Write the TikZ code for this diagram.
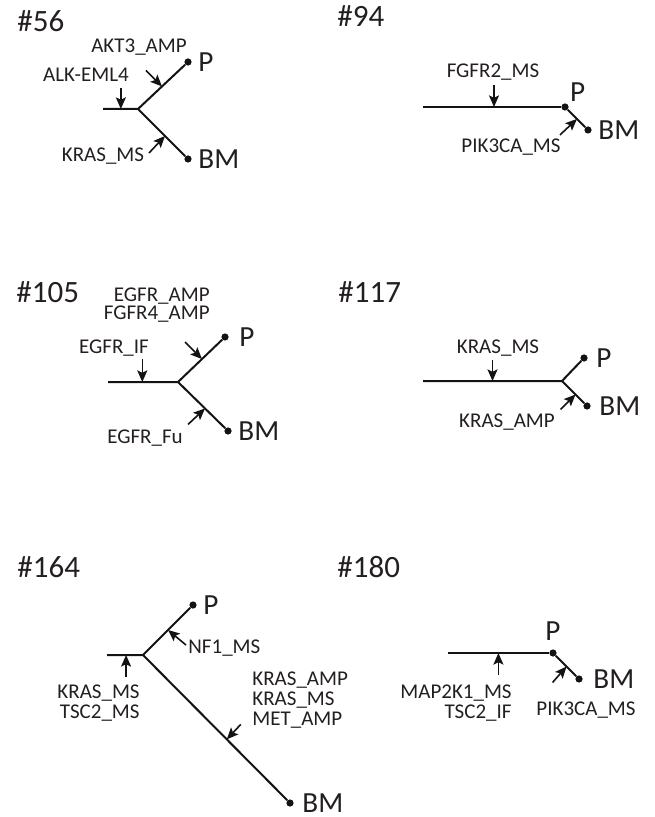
\documentclass[tikz,border=0pt]{standalone}
\usepackage{fontspec}
\setmainfont{Carlito}
\usepackage{tikz}
\usetikzlibrary{arrows.meta, positioning, calc}
\definecolor{mytext}{RGB}{35,31,32}
\definecolor{myline}{RGB}{20,18,18}
\tikzset{
  branch/.style={line width=1pt, color=myline},
  tipdot/.style={circle, fill=myline, inner sep=0pt, minimum size=3.6pt},
  mutarrow/.style={-{Stealth[length=5.8pt, width=5pt, inset=1.2pt]}, line width=0.8pt, color=myline},
  mutlabel/.style={font=\fontsize{10.5}{10}\selectfont, text=mytext, inner sep=0pt, anchor=base},
  sitelabel/.style={font=\fontsize{14.6}{16}\selectfont, text=mytext, inner sep=0pt},
  casetitle/.style={font=\fontsize{15.5}{18}\selectfont, text=mytext, inner sep=0pt, anchor=base west}
}

\begin{document}
\begin{tikzpicture}[x=0.5pt, y=-0.5pt]
  \useasboundingbox (0,0) rectangle (654,817);

  % #56
  \node[casetitle] (t56) at (17,32) {\#56};
  \coordinate (s56) at (103,109);
  \coordinate (j56) at (138,109);
  \node[tipdot] (p56) at (188,62) {};
  \node[tipdot] (bm56) at (188,159) {};
  \draw[branch] (s56) -- (j56) -- (p56);
  \draw[branch] (j56) -- (bm56);
  \node[sitelabel, right=3pt of p56] (lp56) {P};
  \node[sitelabel, right=3pt of bm56] (lbm56) {BM};
  \coordinate (m56a) at ($(s56)!0.51!(j56)$);
  \coordinate (m56b) at ($(j56)!0.48!(p56)$);
  \coordinate (m56c) at ($(j56)!0.54!(bm56)$);
  \coordinate (a56a) at ($(m56a)+(0,-21)$);
  \coordinate (a56b) at ($(m56b)+(-16,-16)$);
  \coordinate (a56c) at ($(m56c)+(-16,17)$);
  \draw[mutarrow] (a56a) -- (m56a);
  \draw[mutarrow] (a56b) -- (m56b);
  \draw[mutarrow] (a56c) -- (m56c);
  \node[mutlabel] (g56a) at (86,82) {ALK-EML4};
  \node[mutlabel] (g56b) at (139,53) {AKT3\_AMP};
  \node[mutlabel] (g56c) at (103,162) {KRAS\_MS};

  % #94
  \node[casetitle] (t94) at (337,27) {\#94};
  \coordinate (s94) at (423,107);
  \node[tipdot] (p94) at (565,107) {};
  \node[tipdot] (bm94) at (588,130) {};
  \draw[branch] (s94) -- (p94);
  \draw[branch] (p94) -- (bm94);
  \node[sitelabel, above right=1pt and 1pt of p94] (lp94) {P};
  \node[sitelabel, right=3pt of bm94] (lbm94) {BM};
  \coordinate (m94a) at ($(s94)!0.5!(p94)$);
  \coordinate (m94b) at ($(p94)!0.52!(bm94)$);
  \coordinate (a94a) at ($(m94a)+(0,-22)$);
  \coordinate (a94b) at ($(m94b)+(-17,16)$);
  \draw[mutarrow] (a94a) -- (m94a);
  \draw[mutarrow] (a94b) -- (m94b);
  \node[mutlabel] (g94a) at (493,78) {FGFR2\_MS};
  \node[mutlabel] (g94b) at (511,153) {PIK3CA\_MS};

  % #105
  \node[casetitle] (t105) at (16,303) {\#105};
  \coordinate (s105) at (108,382);
  \coordinate (j105) at (178,382);
  \node[tipdot] (p105) at (225,337) {};
  \node[tipdot] (bm105) at (228,431) {};
  \draw[branch] (s105) -- (j105) -- (p105);
  \draw[branch] (j105) -- (bm105);
  \node[sitelabel, right=5pt of p105] (lp105) {P};
  \node[sitelabel, right=3pt of bm105] (lbm105) {BM};
  \coordinate (m105a) at ($(s105)!0.49!(j105)$);
  \coordinate (m105b) at ($(j105)!0.51!(p105)$);
  \coordinate (m105c) at ($(j105)!0.54!(bm105)$);
  \coordinate (a105a) at ($(m105a)+(0,-23)$);
  \coordinate (a105b) at ($(m105b)+(-17,-17)$);
  \coordinate (a105c) at ($(m105c)+(-17,16)$);
  \draw[mutarrow] (a105a) -- (m105a);
  \draw[mutarrow] (a105b) -- (m105b);
  \draw[mutarrow] (a105c) -- (m105c);
  \node[mutlabel, font=\fontsize{10.5}{9}\selectfont, align=right, anchor=base east] (g105b) at (210,320) {EGFR\_AMP\\FGFR4\_AMP};
  \node[mutlabel] (g105a) at (114,353) {EGFR\_IF};
  \node[mutlabel] (g105c) at (145,443) {EGFR\_Fu};

  % #117
  \node[casetitle] (t117) at (338,303) {\#117};
  \coordinate (s117) at (423,381);
  \coordinate (j117) at (562,381);
  \node[tipdot] (p117) at (584,358) {};
  \node[tipdot] (bm117) at (587,406) {};
  \draw[branch] (s117) -- (j117) -- (p117);
  \draw[branch] (j117) -- (bm117);
  \node[sitelabel, right=4pt of p117] (lp117) {P};
  \node[sitelabel, right=4pt of bm117] (lbm117) {BM};
  \coordinate (m117a) at ($(s117)!0.5!(j117)$);
  \coordinate (m117b) at ($(j117)!0.54!(bm117)$);
  \coordinate (a117a) at ($(m117a)+(0,-21)$);
  \coordinate (a117b) at ($(m117b)+(-15,15)$);
  \draw[mutarrow] (a117a) -- (m117a);
  \draw[mutarrow] (a117b) -- (m117b);
  \node[mutlabel] (g117a) at (498,353) {KRAS\_MS};
  \node[mutlabel] (g117b) at (507,427) {KRAS\_AMP};

  % #164
  \node[casetitle] (t164) at (17,577) {\#164};
  \coordinate (s164) at (107,655);
  \coordinate (j164) at (143,655);
  \node[tipdot] (p164) at (193,605) {};
  \node[tipdot] (bm164) at (290,803) {};
  \draw[branch] (s164) -- (j164) -- (p164);
  \draw[branch] (j164) -- (bm164);
  \node[sitelabel, right=3pt of p164] (lp164) {P};
  \node[sitelabel, right=4pt of bm164] (lbm164) {BM};
  \coordinate (m164a) at ($(s164)!0.53!(j164)$);
  \coordinate (m164b) at ($(j164)!0.5!(p164)$);
  \coordinate (m164c) at ($(j164)!0.57!(bm164)$);
  \coordinate (a164a) at ($(m164a)+(0,22)$);
  \coordinate (a164b) at ($(m164b)+(18,15)$);
  \coordinate (a164c) at ($(m164c)+(14,-15)$);
  \draw[mutarrow] (a164a) -- (m164a);
  \draw[mutarrow] (a164b) -- (m164b);
  \draw[mutarrow] (a164c) -- (m164c);
  \node[mutlabel, align=right, anchor=base east] (g164a) at (140,718) {KRAS\_MS\\TSC2\_MS};
  \node[mutlabel, anchor=base west] (g164b) at (188,653) {NF1\_MS};
  \node[mutlabel, align=left, anchor=base west] (g164c) at (252,725) {KRAS\_AMP\\KRAS\_MS\\MET\_AMP};

  % #180
  \node[casetitle] (t180) at (337,577) {\#180};
  \coordinate (s180) at (448,653);
  \node[tipdot] (p180) at (553,653) {};
  \node[tipdot] (bm180) at (579,679) {};
  \draw[branch] (s180) -- (p180);
  \draw[branch] (p180) -- (bm180);
  \node[sitelabel, above=4pt of p180] (lp180) {P};
  \node[sitelabel, right=5pt of bm180] (lbm180) {BM};
  \coordinate (m180a) at ($(s180)!0.48!(p180)$);
  \coordinate (m180b) at ($(p180)!0.52!(bm180)$);
  \coordinate (a180a) at ($(m180a)+(0,22)$);
  \coordinate (a180b) at ($(m180b)+(-14,16)$);
  \draw[mutarrow] (a180a) -- (m180a);
  \draw[mutarrow] (a180b) -- (m180b);
  \node[mutlabel, align=right, anchor=base east] (g180a) at (512,718) {MAP2K1\_MS\\TSC2\_IF};
  \node[mutlabel] (g180b) at (586,715) {PIK3CA\_MS};
\end{tikzpicture}
\end{document}
